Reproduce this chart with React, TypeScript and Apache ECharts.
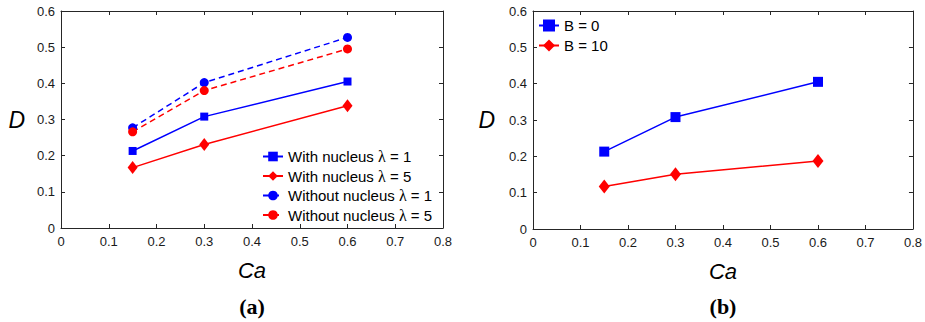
import React, { useEffect, useRef } from "react";
import * as echarts from "echarts";

const caValues = [0.15, 0.3, 0.6];
const withNucleusL1 = [0.213, 0.308, 0.405];
const withNucleusL5 = [0.167, 0.231, 0.338];
const withoutNucleusL1 = [0.277, 0.402, 0.527];
const withoutNucleusL5 = [0.266, 0.38, 0.495];
const bZero = [0.213, 0.308, 0.405];
const bTen = [0.117, 0.151, 0.187];

const namesA = [
  "With nucleus λ = 1",
  "With nucleus λ = 5",
  "Without nucleus λ = 1",
  "Without nucleus λ = 5",
];
const namesB = ["B = 0", "B = 10"];
const panelLabels = ["(a)", "(b)"];

const BLUE = "#0000ff";
const RED = "#ff0000";
const AXIS = "#262626";
const FONT = "'Liberation Sans', Arial, sans-serif";

const pair = (ys: number[]) => caValues.map((x, i) => [x, ys[i]]);

function makeX(gridIndex: number, pos: "bottom" | "top", main: boolean): any {
  return {
    type: "value",
    gridIndex,
    position: pos,
    min: 0,
    max: 0.8,
    interval: 0.1,
    name: main ? "Ca" : "",
    nameLocation: "middle",
    nameGap: 31,
    nameTextStyle: { fontFamily: FONT, fontStyle: "italic", fontSize: 22, color: "#000" },
    axisLine: { show: true, onZero: false, lineStyle: { color: AXIS, width: 1 } },
    axisTick: { show: true, inside: true, length: 4, lineStyle: { color: AXIS } },
    axisLabel: { show: main, fontFamily: FONT, fontSize: 13, color: "#1a1a1a", margin: 7 },
    splitLine: { show: false },
  };
}

function makeY(gridIndex: number, pos: "left" | "right", main: boolean, gap: number): any {
  return {
    type: "value",
    gridIndex,
    position: pos,
    min: 0,
    max: 0.6,
    interval: 0.1,
    name: main ? "D" : "",
    nameLocation: "middle",
    nameRotate: 0,
    nameGap: gap,
    nameTextStyle: { fontFamily: FONT, fontStyle: "italic", fontSize: 23, color: "#000" },
    axisLine: { show: true, onZero: false, lineStyle: { color: AXIS, width: 1 } },
    axisTick: { show: true, inside: true, length: 4, lineStyle: { color: AXIS } },
    axisLabel: { show: main, fontFamily: FONT, fontSize: 13, color: "#1a1a1a", margin: 6 },
    splitLine: { show: false },
  };
}

function lineSeries(
  name: string,
  data: number[],
  color: string,
  symbol: string,
  size: number | number[],
  dashed: boolean,
  axisIndex: number
): any {
  return {
    type: "line",
    name,
    xAxisIndex: axisIndex,
    yAxisIndex: axisIndex,
    data: pair(data),
    symbol,
    symbolSize: size,
    showSymbol: true,
    color,
    itemStyle: { color },
    lineStyle: { color, width: 1.5, type: dashed ? [6, 4] : "solid" },
    z: 3,
  };
}

export default function App() {
  const ref = useRef<HTMLDivElement>(null);
  useEffect(() => {
    if (!ref.current) return;
    const chart = echarts.init(ref.current, undefined, { renderer: "svg" });
    const legendText = {
      fontFamily: FONT,
      fontSize: 15,
      color: "#000",
      lineHeight: 17,
      rich: { l: { fontFamily: "'Liberation Serif', serif", fontSize: 16, lineHeight: 17, color: "#000" } },
    };
    chart.setOption({
      animation: false,
      backgroundColor: "#fff",
      grid: [
        { left: 61, top: 11, width: 382, height: 217, show: false },
        { left: 533, top: 11, width: 381, height: 218, show: false },
      ],
      xAxis: [makeX(0, "bottom", true), makeX(0, "top", false), makeX(1, "bottom", true), makeX(1, "top", false)],
      yAxis: [makeY(0, "left", true, 36), makeY(0, "right", false, 36), makeY(1, "left", true, 38), makeY(1, "right", false, 38)],
      legend: [
        {
          data: namesA,
          orient: "vertical",
          left: 262,
          top: 148,
          itemWidth: 20,
          itemHeight: 12,
          itemGap: 2.5,
          padding: 0,
          textStyle: legendText,
          formatter: (n: string) => n.replace("λ", "{l|λ}"),
        },
        {
          data: namesB,
          orient: "vertical",
          left: 538,
          top: 17,
          itemWidth: 20,
          itemHeight: 15,
          itemGap: 3,
          padding: 0,
          textStyle: legendText,
        },
      ],
      series: [
        lineSeries(namesA[0], withNucleusL1, BLUE, "rect", 8, false, 0),
        lineSeries(namesA[1], withNucleusL5, RED, "diamond", [10, 13], false, 0),
        lineSeries(namesA[2], withoutNucleusL1, BLUE, "circle", 9, true, 0),
        lineSeries(namesA[3], withoutNucleusL5, RED, "circle", 9, true, 0),
        lineSeries(namesB[0], bZero, BLUE, "rect", 10, false, 2),
        lineSeries(namesB[1], bTen, RED, "diamond", [11, 14], false, 2),
      ],
      graphic: [
        {
          type: "text",
          x: 252,
          y: 306,
          style: {
            text: panelLabels[0],
            font: "bold 22px 'Liberation Serif', serif",
            fill: "#000",
            align: "center",
            verticalAlign: "middle",
          },
        },
        {
          type: "text",
          x: 723,
          y: 306,
          style: {
            text: panelLabels[1],
            font: "bold 22px 'Liberation Serif', serif",
            fill: "#000",
            align: "center",
            verticalAlign: "middle",
          },
        },
      ],
    });
    return () => chart.dispose();
  }, []);
  return (
    <div
      ref={ref}
      style={{ position: "fixed", left: 0, top: 0, width: 925, height: 322, background: "#fff" }}
    />
  );
}
